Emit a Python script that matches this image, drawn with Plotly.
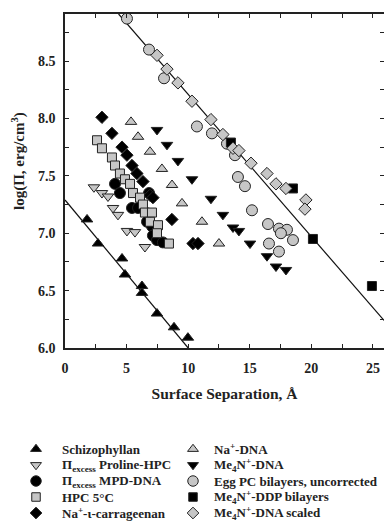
import plotly.graph_objects as go

# ---------------- data ----------------
schizo_x = [1.79, 2.68, 4.63, 4.87, 6.25, 6.25, 7.47, 8.85, 9.98]
schizo_y = [7.12, 6.91, 6.78, 6.64, 6.54, 6.48, 6.30, 6.18, 6.09]

proline_x = [2.35, 3.00, 3.49, 3.90, 4.30, 5.03, 5.68, 6.49]
proline_y = [7.40, 7.35, 7.32, 7.22, 7.16, 7.02, 7.01, 6.88]

mpd_x = [4.06, 4.46, 5.44, 5.93, 6.66, 6.82, 7.06, 7.14, 7.47, 7.95]
mpd_y = [7.43, 7.35, 7.22, 7.22, 7.10, 7.35, 7.06, 6.98, 6.94, 6.92]

hpc_x = [2.60, 3.00, 3.81, 4.06, 4.46, 4.87, 5.28, 5.52, 6.09, 6.33, 6.49, 7.06, 6.90, 7.55, 7.47, 8.44]
hpc_y = [7.81, 7.74, 7.66, 7.59, 7.52, 7.47, 7.43, 7.35, 7.31, 7.25, 7.18, 7.18, 7.10, 7.07, 7.00, 6.91]

carr_x = [3.00, 3.81, 4.63, 5.03, 5.44, 5.84, 6.33, 6.90, 7.14, 8.68, 10.39, 10.80]
carr_y = [8.01, 7.87, 7.75, 7.68, 7.59, 7.52, 7.45, 7.33, 7.31, 7.12, 6.91, 6.91]

nadna_x = [5.36, 5.93, 6.90, 7.87, 8.69, 9.50, 11.12, 12.50]
nadna_y = [7.97, 7.84, 7.71, 7.56, 7.42, 7.26, 7.10, 6.91]

me4n_x = [7.47, 8.28, 9.17, 10.31, 11.85, 12.82, 13.64, 14.12, 15.02, 16.40, 17.13, 17.94]
me4n_y = [7.90, 7.77, 7.63, 7.47, 7.30, 7.16, 7.05, 7.02, 6.91, 6.80, 6.71, 6.68]

eggpc_x = [5.03, 6.82, 8.04, 10.71, 11.93, 13.15, 13.80, 14.04, 14.61, 15.18, 16.48, 17.37, 18.02, 17.53, 18.51, 16.56, 17.37]
eggpc_y = [8.87, 8.60, 8.35, 7.93, 7.87, 7.78, 7.68, 7.49, 7.41, 7.20, 7.08, 7.04, 7.03, 7.00, 6.94, 6.91, 6.84]

ddp_x = [13.47, 18.51, 20.13, 24.92]
ddp_y = [7.79, 7.39, 6.95, 6.54]

scaled_x = [7.47, 8.28, 9.17, 10.31, 11.85, 12.82, 13.64, 14.12, 15.10, 16.40, 17.13, 17.94, 19.56, 19.48]
scaled_y = [8.55, 8.43, 8.31, 8.15, 7.99, 7.86, 7.74, 7.72, 7.61, 7.52, 7.43, 7.39, 7.29, 7.21]

# fitted lines (end points)
fit1_x = [0.0, 10.0]
fit1_y = [7.29, 6.0]
fit2_x = [4.35, 25.9]
fit2_y = [8.91, 6.24]

x_ticks = [0, 5, 10, 15, 20, 25]
y_ticks = [6.0, 6.5, 7.0, 7.5, 8.0, 8.5]

legend_labels = [
    "Schizophyllan",
    "\u03a0<sub>excess</sub> Proline-HPC",
    "\u03a0<sub>excess</sub> MPD-DNA",
    "HPC 5\u00b0C",
    "Na<sup>+</sup>-\u03b9-carrageenan",
    "Na<sup>+</sup>-DNA",
    "Me<sub>4</sub>N<sup>+</sup>-DNA",
    "Egg PC bilayers, uncorrected",
    "Me<sub>4</sub>N<sup>+</sup>-DDP bilayers",
    "Me<sub>4</sub>N<sup>+</sup>-DNA scaled",
]

# ---------------- styles ----------------
W, H = 384, 525
GRAY = "#c6c6c6"
EDGE = "#222222"
FONT = "Liberation Serif, Times New Roman, serif"
TXT = "#222222"

styles = {
    "schizo": dict(symbol="triangle-up", color="black", size=10),
    "proline": dict(symbol="triangle-down", color=GRAY, size=10),
    "mpd": dict(symbol="circle", color="black", size=11),
    "hpc": dict(symbol="square", color=GRAY, size=9),
    "carr": dict(symbol="diamond", color="black", size=9.5),
    "nadna": dict(symbol="triangle-up", color=GRAY, size=10),
    "me4n": dict(symbol="triangle-down", color="black", size=10),
    "eggpc": dict(symbol="circle", color=GRAY, size=11),
    "ddp": dict(symbol="square", color="black", size=9),
    "scaled": dict(symbol="diamond", color=GRAY, size=9.5),
}

series = {
    "schizo": (schizo_x, schizo_y),
    "proline": (proline_x, proline_y),
    "mpd": (mpd_x, mpd_y),
    "hpc": (hpc_x, hpc_y),
    "carr": (carr_x, carr_y),
    "nadna": (nadna_x, nadna_y),
    "me4n": (me4n_x, me4n_y),
    "eggpc": (eggpc_x, eggpc_y),
    "ddp": (ddp_x, ddp_y),
    "scaled": (scaled_x, scaled_y),
}
legend_order = ["schizo", "proline", "mpd", "hpc", "carr",
                "nadna", "me4n", "eggpc", "ddp", "scaled"]
draw_order = ["schizo", "mpd", "carr", "hpc", "proline",
              "nadna", "me4n", "eggpc", "ddp", "scaled"]

fig = go.Figure()

# fit lines
for fx, fy in [(fit1_x, fit1_y), (fit2_x, fit2_y)]:
    fig.add_trace(go.Scatter(x=fx, y=fy, mode="lines",
                             line=dict(color="#111111", width=1.2),
                             showlegend=False, hoverinfo="skip",
                             xaxis="x", yaxis="y"))

for key in draw_order:
    sx, sy = series[key]
    st = styles[key]
    name = legend_labels[legend_order.index(key)]
    fig.add_trace(go.Scatter(
        x=sx, y=sy, mode="markers", name=name, showlegend=False,
        marker=dict(symbol=st["symbol"], color=st["color"], size=st["size"],
                    line=dict(color=EDGE, width=1)),
        xaxis="x", yaxis="y"))

# ---------------- hand-drawn legend (pixel coordinates in x2/y2) ----------------
leg_rows = [449, 465, 481, 497, 513]
leg_sym_x = [36, 193]
leg_txt_x = [60, 212]
for i, key in enumerate(legend_order):
    col, row = divmod(i, 5)
    st = styles[key]
    fig.add_trace(go.Scatter(
        x=[leg_sym_x[col]], y=[leg_rows[row]], mode="markers",
        showlegend=False, hoverinfo="skip",
        marker=dict(symbol=st["symbol"], color=st["color"], size=st["size"] - 0.5,
                    line=dict(color=EDGE, width=1)),
        xaxis="x2", yaxis="y2"))
    fig.add_annotation(x=leg_txt_x[col], y=leg_rows[row], xref="x2", yref="y2",
                       text=legend_labels[i], showarrow=False,
                       xanchor="left", yanchor="middle",
                       font=dict(family=FONT, size=13, color=TXT, weight="bold"))

# y-axis title (placed as in the reference, slightly above centre)
fig.add_annotation(x=18 / W, y=1 - 161 / H, xref="paper", yref="paper",
                   text="log(\u03a0, erg/cm<sup>3</sup>)", textangle=-90,
                   showarrow=False, xanchor="center", yanchor="middle",
                   font=dict(family=FONT, size=15, color=TXT, weight="bold"))

# ---------------- layout ----------------
plot_l, plot_r, plot_t, plot_b = 65, 384, 14, 348
axis_common = dict(
    showline=True, linecolor="#222222", linewidth=1.5, mirror="ticks",
    ticks="inside", ticklen=4, tickwidth=1.2, tickcolor="#222222",
    showgrid=False, zeroline=False, automargin=False,
    tickfont=dict(family=FONT, size=14, color=TXT, weight="bold"),
)
fig.update_layout(
    width=W, height=H,
    margin=dict(l=0, r=0, t=0, b=0),
    paper_bgcolor="white", plot_bgcolor="white",
    showlegend=False,
    xaxis=dict(
        domain=[plot_l / W, plot_r / W], range=[0, 25.9],
        tickvals=x_ticks, ticktext=[str(v) for v in x_ticks],
        minor=dict(dtick=2.5, tick0=0, ticks="inside", ticklen=4, tickcolor="#222222", showgrid=False),
        ticklabelstandoff=6,
        title=dict(text="Surface Separation, \u00c5", standoff=14,
                   font=dict(family=FONT, size=15.5, color=TXT, weight="bold")),
        anchor="y", **axis_common),
    yaxis=dict(
        domain=[1 - plot_b / H, 1 - plot_t / H], range=[6.0, 8.91],
        tickvals=y_ticks, ticktext=[f"{v:.1f}" for v in y_ticks],
        minor=dict(dtick=0.25, tick0=6.0, ticks="inside", ticklen=4, tickcolor="#222222", showgrid=False),
        ticklabelstandoff=5,
        anchor="x", **axis_common),
    xaxis2=dict(domain=[0, 1], range=[0, W], visible=False, anchor="y2", fixedrange=True),
    yaxis2=dict(domain=[0, 0.2], range=[H, H - 0.2 * H], visible=False, anchor="x2", fixedrange=True),
)

fig.write_html("out.html")
